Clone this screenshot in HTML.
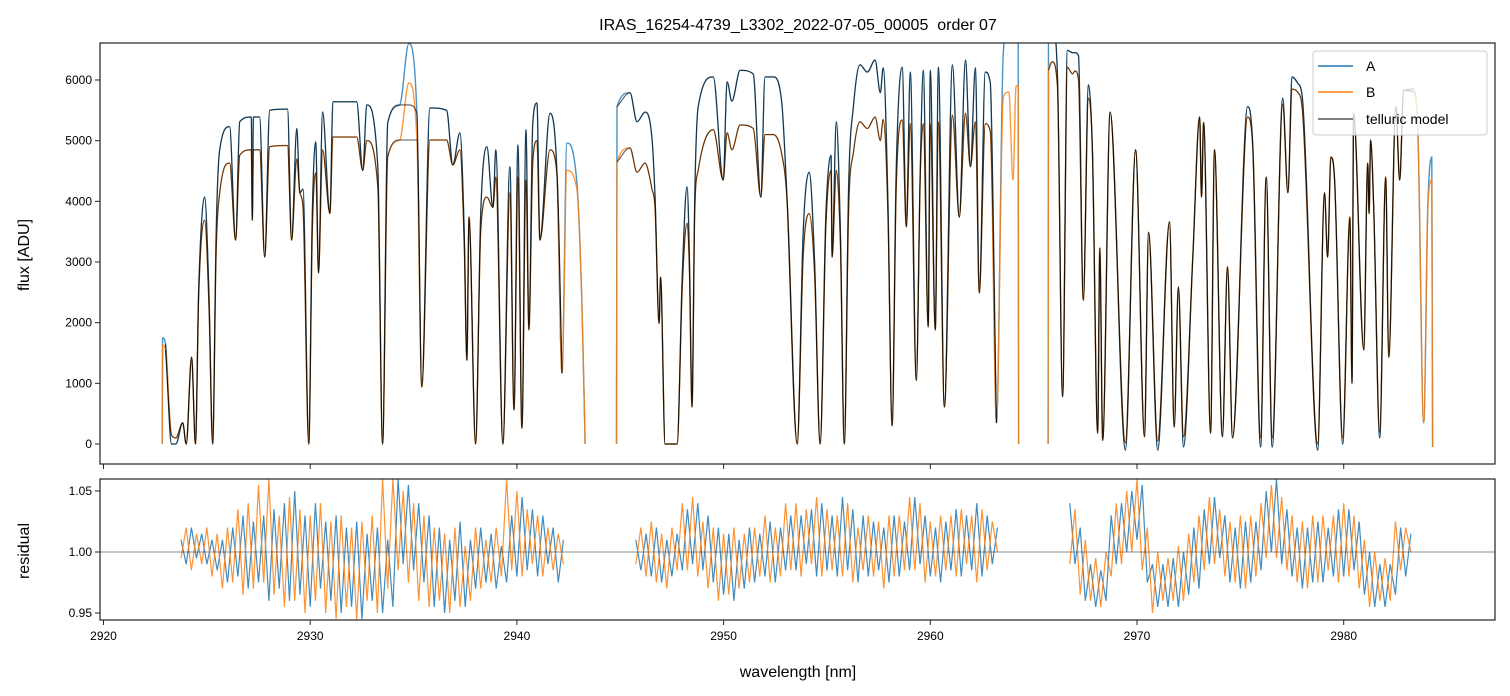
<!DOCTYPE html>
<html><head><meta charset="utf-8"><style>
html,body{margin:0;padding:0;background:#fff;}
svg{display:block;font-family:"Liberation Sans","DejaVu Sans",sans-serif;}
</style></head><body>
<svg id="chart" width="1510" height="696" viewBox="0 0 1510 696" xmlns="http://www.w3.org/2000/svg">
<defs>
<clipPath id="clipTop"><rect x="100" y="43" width="1395" height="421"/></clipPath>
<clipPath id="clipBot"><rect x="100" y="479" width="1395" height="141"/></clipPath>
</defs>
<text x="798" y="30" font-size="16" text-anchor="middle" style="white-space:pre">IRAS_16254-4739_L3302_2022-07-05_00005  order 07</text>
<g id="topPanel"></g>
<g id="botPanel"></g>
<text transform="translate(29,255) rotate(-90)" font-size="16" text-anchor="middle">flux [ADU]</text>
<text transform="translate(29,551) rotate(-90)" font-size="16" text-anchor="middle">residual</text>
<text x="798" y="677" font-size="16" text-anchor="middle">wavelength [nm]</text>
<g>
<rect x="1313" y="51" width="174" height="84" rx="3" fill="#fff" fill-opacity="0.8" stroke="#ccc"/>
<line x1="1318" y1="66" x2="1353" y2="66" stroke="#1f77b4" stroke-width="1.5"/>
<text x="1366" y="71" font-size="14">A</text>
<line x1="1318" y1="92" x2="1353" y2="92" stroke="#ff7f0e" stroke-width="1.5"/>
<text x="1366" y="97" font-size="14">B</text>
<line x1="1318" y1="119" x2="1353" y2="119" stroke="#555" stroke-width="1.5"/>
<text x="1366" y="124" font-size="14">telluric model</text>
</g>
</svg>
<script>
// ---- flux data (segments) ----
const seg1Wl=[2922.84,2922.86,2923.0,2923.29,2923.5,2923.83,2924.0,2924.26,2924.45,2924.6,2924.89,2925.1,2925.28,2925.45,2925.62,2926.1,2926.39,2926.59,2927.15,2927.2,2927.25,2927.55,2927.8,2928.04,2928.9,2929.1,2929.35,2929.5,2929.65,2929.93,2930.1,2930.27,2930.4,2930.6,2930.95,2931.1,2932.25,2932.54,2932.74,2933.27,2933.5,2933.75,2934.33,2934.77,2935.16,2935.4,2935.79,2936.6,2936.9,2937.24,2937.45,2937.58,2937.68,2938.0,2938.25,2938.55,2938.84,2938.98,2939.32,2939.66,2939.86,2940.05,2940.24,2940.44,2940.58,2940.77,2940.97,2941.11,2941.6,2941.94,2942.18,2942.42,2942.9,2943.15,2943.3];
const seg1A=[0,1750,1650,0,0,350,0,1430,0,2500,4070,2500,0,3500,4850,5230,3360,5310,5390,3690,5390,5390,3080,5500,5520,3360,5200,4140,4200,0,3800,4980,2820,5470,3800,5640,5640,4510,5590,4570,0,5290,5590,6600,5450,940,5540,5500,4600,5130,3500,1380,3740,0,3800,4900,3900,4850,0,4570,560,4930,260,5180,1880,5300,5620,3360,5450,4450,1170,4960,4300,2260,0];
const seg1B=[0,1630,1550,150,100,350,0,1430,0,2400,3690,2300,0,3200,4140,4630,3360,4760,4850,3690,4850,4850,3080,4900,4920,3360,4700,4140,3900,0,3500,4470,2820,4850,3800,5060,5060,4510,5000,4240,0,4730,5010,5950,5010,940,5010,5010,4600,4850,3300,1380,3740,0,3500,4070,3900,4400,0,4140,560,4400,260,4350,1880,4650,5000,3360,4850,4450,1170,4510,4200,2260,0];
const seg2Wl=[2944.82,2944.84,2945.47,2945.81,2946.2,2946.54,2946.68,2946.88,2946.95,2947.17,2947.75,2948.0,2948.23,2948.35,2948.47,2948.6,2948.77,2949.5,2949.98,2950.17,2950.4,2950.8,2951.43,2951.8,2952.0,2952.4,2952.8,2953.07,2953.56,2953.85,2954.14,2954.4,2954.67,2954.95,2955.2,2955.25,2955.45,2955.65,2955.84,2956.05,2956.28,2956.6,2956.95,2957.33,2957.58,2957.72,2957.95,2958.15,2958.35,2958.64,2958.84,2959.03,2959.32,2959.51,2959.66,2959.9,2960.0,2960.24,2960.39,2960.68,2961.07,2961.4,2961.7,2961.94,2962.18,2962.37,2962.66,2962.9,2963.2,2963.53,2963.8,2964.0,2964.15,2964.25,2964.27];
const seg2A=[0,5560,5790,5310,5470,5010,4100,1990,2750,0,0,2800,4240,3000,610,4000,5560,6050,4350,5970,5650,6160,6100,4070,6050,6050,5670,4020,0,3500,4480,3000,0,3800,4760,3080,5310,3500,0,4300,5560,6250,6130,6330,5790,6200,4000,300,4500,6210,3580,6130,1050,4460,6160,1930,6160,1880,6210,610,6250,3740,6330,4570,6200,2490,6130,5950,350,6450,6900,6900,6900,6900,0];
const seg2B=[0,4650,4880,4480,4630,4190,3900,1990,2750,0,0,2600,3640,2800,610,3800,4510,5180,4350,5130,4850,5260,5200,4070,5100,5100,4800,4020,0,3100,3800,2800,0,3600,4510,3080,4510,3300,0,3900,4800,5310,5200,5390,5000,5350,3800,300,4200,5340,3580,5280,1050,4400,5280,1930,5280,1880,5310,610,5420,3740,5450,4570,5310,2490,5280,5150,350,5720,5800,4350,5900,5900,0];
const seg3Wl=[2965.7,2965.72,2965.9,2966.15,2966.4,2966.63,2966.88,2967.0,2967.17,2967.4,2967.65,2967.84,2968.1,2968.2,2968.34,2968.7,2969.44,2969.93,2970.36,2970.56,2971.0,2971.57,2971.8,2972.0,2972.25,2972.7,2973.03,2973.12,2973.22,2973.56,2973.75,2974.13,2974.38,2974.62,2975.35,2975.6,2975.98,2976.25,2976.54,2977.05,2977.3,2977.5,2977.77,2978.0,2978.74,2979.07,2979.22,2979.38,2979.56,2979.95,2980.3,2980.4,2980.48,2980.97,2981.16,2981.23,2981.3,2981.45,2981.74,2982.03,2982.18,2982.52,2982.71,2982.9,2983.4,2983.6,2983.87,2984.07,2984.26,2984.3];
const seg3A=[0,6900,6900,6110,780,6490,6450,6450,6400,2370,5920,4850,180,3230,60,5470,-100,4850,120,3490,-100,3660,280,2590,-50,3080,5390,4070,5300,180,4850,120,2920,100,5560,4900,-50,4400,-50,5700,4140,6050,5950,5700,-100,4140,3080,4730,4350,0,3740,1000,5450,1550,4630,3800,5010,3900,100,4400,1430,5560,4350,5830,5800,5010,350,3900,4730,-50];
const seg3B=[0,6160,6300,5900,780,6210,6100,6150,6000,2370,5700,4850,180,3230,60,5470,20,4850,120,3490,50,3660,280,2590,120,3080,5390,4070,5300,180,4850,120,2920,100,5390,4900,100,4400,100,5600,4140,5850,5800,5500,0,4140,3080,4730,4350,100,3740,1000,5450,1550,4630,3800,5010,3900,200,4400,1430,5560,4350,5830,5850,5010,350,3900,4350,-50];
const modelStart=[2923.0,2944.84,2965.72];
const modelEnd=[2942.3,2963.5,2983.4];
const modelPatchWl=[2934.77];
const modelPatchA=[5590];
const modelPatchB=[5010];
// ---- residual data ----
const resStart=[2923.75,2945.75,2966.75];
const resStep=0.25;
const res1A=[1.01,0.99,1.02,0.995,1.015,0.99,1.01,0.985,1.01,0.975,1.02,0.98,1.03,0.97,1.025,0.975,1.03,0.96,1.035,0.97,1.04,0.96,1.05,0.965,1.03,0.955,1.04,0.97,1.025,0.96,1.03,0.95,1.02,0.955,1.025,0.945,1.015,0.96,1.02,0.95,1.01,0.955,1.06,0.99,1.055,0.985,1.04,0.975,1.03,0.955,1.02,0.95,1.01,0.96,1.025,0.955,1.01,0.97,1.02,0.975,1.015,0.97,1.005,0.975,1.03,0.98,1.045,0.985,1.035,0.98,1.03,0.99,1.02,0.975,1.01];
const res1B=[0.995,1.02,0.985,1.015,0.99,1.02,0.98,1.015,0.97,1.02,0.975,1.035,0.965,1.04,0.97,1.055,0.975,1.06,0.965,1.03,0.955,1.045,0.96,1.035,0.95,1.03,0.96,1.04,0.95,1.025,0.945,1.03,0.955,1.02,0.945,1.025,0.96,1.03,0.95,1.06,0.97,1.06,0.985,1.05,0.975,1.04,0.96,1.03,0.955,1.02,0.96,1.015,0.95,1.02,0.955,1.005,0.96,1.02,0.97,1.01,0.975,1.02,0.98,1.06,0.985,1.05,0.98,1.035,0.99,1.03,0.98,1.02,0.985,1.015,0.99];
const res2A=[1.01,0.985,1.015,0.98,1.02,0.975,1.01,0.98,1.015,0.985,1.035,0.99,1.04,0.985,1.03,0.975,1.02,0.965,1.015,0.96,1.01,0.97,1.02,0.975,1.015,0.98,1.025,0.975,1.02,0.985,1.03,0.985,1.03,0.99,1.035,0.98,1.04,0.985,1.03,0.98,1.045,0.985,1.035,0.975,1.03,0.98,1.025,0.985,1.02,0.975,1.03,0.98,1.025,0.985,1.045,0.99,1.03,0.98,1.02,0.975,1.025,0.985,1.035,0.98,1.03,0.985,1.04,0.98,1.03,0.99,1.02];
const res2B=[0.99,1.02,0.98,1.025,0.975,1.015,0.97,1.02,0.985,1.04,0.985,1.045,0.98,1.025,0.97,1.02,0.96,1.015,0.965,1.02,0.97,1.015,0.975,1.02,0.98,1.03,0.975,1.02,0.98,1.04,0.985,1.04,0.98,1.035,0.99,1.045,0.98,1.035,0.985,1.03,0.98,1.04,0.975,1.02,0.985,1.03,0.98,1.025,0.97,1.03,0.98,1.03,0.985,1.045,0.985,1.04,0.975,1.025,0.98,1.03,0.985,1.03,0.98,1.035,0.99,1.03,0.975,1.035,0.985,1.025,1.0];
const res3A=[1.04,0.99,1.02,0.96,0.99,0.955,0.985,0.96,1.03,0.99,1.04,1.0,1.05,1.01,1.055,0.975,0.99,0.955,0.99,0.955,0.995,0.955,1.0,0.965,1.02,0.97,1.035,0.99,1.045,0.995,1.03,0.975,1.02,0.97,1.025,0.975,1.025,0.985,1.05,1.0,1.06,0.99,1.035,0.98,1.02,0.97,1.02,0.975,1.025,0.975,1.02,0.98,1.035,0.98,1.035,0.985,1.025,0.965,1.0,0.955,0.99,0.955,0.99,0.965,1.02,0.98,1.015];
const res3B=[0.99,1.035,0.965,1.01,0.96,0.995,0.955,1.0,0.98,1.04,0.99,1.05,1.0,1.06,0.985,1.02,0.95,1.0,0.96,0.995,0.96,1.005,0.96,1.015,0.975,1.03,0.985,1.045,0.99,1.035,0.98,1.025,0.975,1.03,0.97,1.03,0.98,1.04,0.995,1.055,0.995,1.045,0.985,1.03,0.975,1.025,0.97,1.03,0.975,1.03,0.985,1.03,0.975,1.04,0.98,1.03,0.97,1.01,0.955,1.0,0.96,0.995,0.96,1.025,0.985,1.02,1.0];
const xTicks=[2920,2930,2940,2950,2960,2970,2980];
const yTicks=[0,1000,2000,3000,4000,5000,6000];
const rTicks=[0.95,1.00,1.05];

const NS='http://www.w3.org/2000/svg';
const X0=100,X1=1495,T0=43,T1=464,B0=479,B1=620;
const xMin=2919.83,xPer=20.67;
function xs(w){return X0+(w-xMin)*xPer;}
function ys(f){return 444-f*0.06067;}
function yr(r){return 552-(r-1)*1220;}
function mk(tag,attrs,parent){const e=document.createElementNS(NS,tag);for(const k in attrs)e.setAttribute(k,attrs[k]);parent.appendChild(e);return e;}
const panelTop=document.getElementById('topPanel'),panelBot=document.getElementById('botPanel');
const gT=mk('g',{'clip-path':'url(#clipTop)'},panelTop);
const gB=mk('g',{'clip-path':'url(#clipBot)'},panelBot);
const segs=[[seg1Wl,seg1A,seg1B],[seg2Wl,seg2A,seg2B],[seg3Wl,seg3A,seg3B]];
// monotone cubic path through pixel points
function monoPath(px,py){
  const n=px.length;if(n<2)return '';
  const d=[],m=new Array(n);
  for(let i=0;i<n-1;i++){const dx=px[i+1]-px[i];d.push(dx>0?(py[i+1]-py[i])/dx:0);}
  m[0]=d[0];m[n-1]=d[n-2];
  for(let i=1;i<n-1;i++){m[i]=(d[i-1]*d[i]<=0)?0:(d[i-1]+d[i])/2;}
  for(let i=0;i<n-1;i++){
    if(d[i]===0){m[i]=0;m[i+1]=0;continue;}
    const a=m[i]/d[i],b=m[i+1]/d[i],s=a*a+b*b;
    if(s>9){const t=3/Math.sqrt(s);m[i]=t*a*d[i];m[i+1]=t*b*d[i];}
  }
  let p='M'+px[0].toFixed(1)+','+py[0].toFixed(1);
  for(let i=0;i<n-1;i++){
    const h=(px[i+1]-px[i])/3;
    p+='C'+(px[i]+h).toFixed(1)+','+(py[i]+m[i]*h).toFixed(1)+' '+(px[i+1]-h).toFixed(1)+','+(py[i+1]-m[i+1]*h).toFixed(1)+' '+px[i+1].toFixed(1)+','+py[i+1].toFixed(1);
  }
  return p;
}
function pathFrom(wl,v,lo,hi,patchVals){
  const px=[],py=[];
  for(let i=0;i<wl.length;i++){
    if(wl[i]<lo||wl[i]>hi)continue;
    let val=v[i];
    if(patchVals){const j=modelPatchWl.indexOf(wl[i]);if(j>=0)val=patchVals[j];}
    px.push(xs(wl[i]));py.push(ys(val));
  }
  return monoPath(px,py);
}
segs.forEach((s,k)=>{
  const pa=mk('path',{d:pathFrom(s[0],s[1],-1e9,1e9),fill:'none',stroke:'#1f77b4','stroke-width':1.4,'stroke-opacity':0.8,'stroke-linejoin':'round'},gT);
  
  
  const pb=mk('path',{d:pathFrom(s[0],s[2],-1e9,1e9),fill:'none',stroke:'#ff7f0e','stroke-width':1.4,'stroke-opacity':0.8,'stroke-linejoin':'round'},gT);
  
  
  [[s[1],modelPatchA],[s[2],modelPatchB]].forEach(m=>{
    const pm=mk('path',{d:pathFrom(s[0],m[0],modelStart[k],modelEnd[k],m[1]),fill:'none',stroke:'#000','stroke-width':1.1,'stroke-opacity':0.65,'stroke-linejoin':'round'},gT);
    
    
  });
});
// residuals
const resA=[res1A,res2A,res3A],resB=[res1B,res2B,res3B];
function resPath(arr,start){let d='';arr.forEach((r,i)=>{d+=(i?'L':'M')+xs(start+i*resStep).toFixed(1)+','+yr(r).toFixed(1);});return d;}
for(let k=0;k<3;k++){
  const ra=mk('path',{d:resPath(resA[k],resStart[k]),fill:'none',stroke:'#1f77b4','stroke-width':1.2,'stroke-opacity':0.85},gB);
  
  
}
for(let k=0;k<3;k++){
  const rb=mk('path',{d:resPath(resB[k],resStart[k]),fill:'none',stroke:'#ff7f0e','stroke-width':1.2,'stroke-opacity':0.85},gB);
  
  
}
const ref=mk('line',{x1:X0,x2:X1,y1:yr(1),y2:yr(1),stroke:'#444','stroke-width':0.8,'stroke-opacity':0.8},gB);


// frames
const fT=mk('rect',{x:X0,y:T0,width:X1-X0,height:T1-T0,fill:'none',stroke:'#222','stroke-width':1.2},panelTop);


const fB=mk('rect',{x:X0,y:B0,width:X1-X0,height:B1-B0,fill:'none',stroke:'#222','stroke-width':1.2},panelBot);


xTicks.forEach(t=>{
  const x=xs(t);
  mk('line',{x1:x,x2:x,y1:T1,y2:T1+5,stroke:'#222','stroke-width':1},panelTop);
  mk('line',{x1:x,x2:x,y1:B1,y2:B1+5,stroke:'#222','stroke-width':1},panelBot);
  const tl=mk('text',{x:x,y:B1+20,'font-size':12,'text-anchor':'middle'},panelBot);
  tl.textContent=t;
  
  
});
yTicks.forEach(t=>{
  const y=ys(t);
  mk('line',{x1:X0-5,x2:X0,y1:y,y2:y,stroke:'#222','stroke-width':1},panelTop);
  const tl=mk('text',{x:X0-8,y:y+4,'font-size':12,'text-anchor':'end'},panelTop);
  tl.textContent=t;
  
  
});
rTicks.forEach(t=>{
  const y=yr(t);
  mk('line',{x1:X0-5,x2:X0,y1:y,y2:y,stroke:'#222','stroke-width':1},panelBot);
  const tl=mk('text',{x:X0-8,y:y+4,'font-size':12,'text-anchor':'end'},panelBot);
  tl.textContent=t.toFixed(2);
  
  
});
</script>
</body></html>
